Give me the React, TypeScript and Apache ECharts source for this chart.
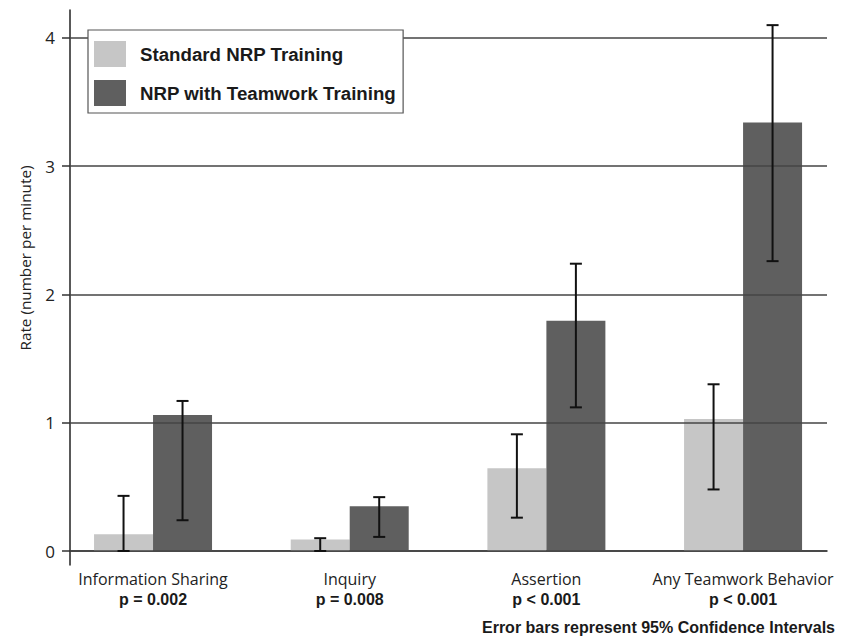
import React, { useEffect, useRef } from "react";
import * as echarts from "echarts";

const categories = ["Information Sharing", "Inquiry", "Assertion", "Any Teamwork Behavior"];
const pValues = ["p = 0.002", "p = 0.008", "p < 0.001", "p < 0.001"];
const seriesNames = ["Standard NRP Training", "NRP with Teamwork Training"];
const standardValues = [0.13, 0.09, 0.645, 1.03];
const teamworkValues = [1.06, 0.35, 1.795, 3.34];
const standardLow = [0.0, 0.0, 0.26, 0.48];
const standardHigh = [0.43, 0.1, 0.91, 1.3];
const teamworkLow = [0.24, 0.11, 1.12, 2.26];
const teamworkHigh = [1.17, 0.42, 2.24, 4.1];
const yTicks = [0, 1, 2, 3, 4];

const Y_MIN = -0.109;
const Y_MAX = 4.218;
const BAR_W = 59;
const LIGHT = "#c6c6c6";
const DARK = "#5f5f5f";
const REG_FONT = "Open Sans";
const BOLD_FONT = "Liberation Sans";

function errorSeries(low: number[], high: number[], offset: number, name: string) {
  return {
    type: "custom",
    name,
    xAxisIndex: 1,
    yAxisIndex: 1,
    z: 5,
    silent: true,
    data: low.map((l, i) => [i, l, high[i]]),
    renderItem: (params: any, api: any) => {
      const idx = api.value(0);
      const pLo = api.coord([idx, api.value(1)]);
      const pHi = api.coord([idx, api.value(2)]);
      const x = pLo[0] + offset;
      const style = { stroke: "#111", lineWidth: 2 };
      return {
        type: "group",
        children: [
          { type: "line", shape: { x1: x, y1: pLo[1], x2: x, y2: pHi[1] }, style },
          { type: "line", shape: { x1: x - 6, y1: pLo[1], x2: x + 6, y2: pLo[1] }, style },
          { type: "line", shape: { x1: x - 6, y1: pHi[1], x2: x + 6, y2: pHi[1] }, style },
        ],
      };
    },
  };
}

export default function App() {
  const ref = useRef<HTMLDivElement>(null);
  useEffect(() => {
    if (!ref.current) return;
    const chart = echarts.init(ref.current, null, { renderer: "svg" });
    const option: any = {
      animation: false,
      backgroundColor: "#ffffff",
      grid: [
        { left: 70, right: 18, top: 10, bottom: 71 },
        { left: 54.7, right: 3.6, top: 10, bottom: 71 },
      ],
      legend: {
        data: seriesNames,
        orient: "vertical",
        left: 88,
        top: 30,
        itemWidth: 32,
        itemHeight: 26,
        itemGap: 13,
        padding: [11, 7, 7, 6],
        borderColor: "#555",
        borderWidth: 1.2,
        backgroundColor: "#ffffff",
        selectedMode: false,
        icon: "rect",
        z: 10,
        textStyle: {
          fontFamily: BOLD_FONT,
          fontWeight: "bold",
          fontSize: 18.7,
          color: "#1a1a1a",
          padding: [0, 0, 0, 9],
        },
      },
      xAxis: [
        {
          type: "category",
          gridIndex: 0,
          data: categories,
          axisLine: { show: true, lineStyle: { color: "#222", width: 1.5 } },
          axisTick: { show: false },
          axisLabel: { show: false },
          splitLine: { show: false },
        },
        {
          type: "category",
          gridIndex: 1,
          data: categories,
          axisLine: { show: false },
          axisTick: { show: false },
          splitLine: { show: false },
          axisLabel: {
            show: true,
            interval: 0,
            margin: 3,
            formatter: (v: string, i: number) => `{n|${v}}\n{p|${pValues[i]}}`,
            rich: {
              n: { fontFamily: REG_FONT, fontSize: 16, color: "#222", lineHeight: 21 },
              p: { fontFamily: BOLD_FONT, fontWeight: "bold", fontSize: 16, color: "#1a1a1a", lineHeight: 21 },
            },
          },
        },
      ],
      yAxis: [
        {
          type: "value",
          gridIndex: 0,
          min: Y_MIN,
          max: Y_MAX,
          axisLine: { show: true, lineStyle: { color: "#222", width: 1.5 } },
          axisTick: { show: true, length: 8, customValues: yTicks, lineStyle: { color: "#333", width: 1.5 } },
          axisLabel: {
            show: true,
            customValues: yTicks,
            margin: 15,
            fontFamily: REG_FONT,
            fontSize: 17,
            color: "#222",
          },
          splitLine: { show: false },
        },
        {
          type: "value",
          gridIndex: 1,
          min: Y_MIN,
          max: Y_MAX,
          show: false,
          splitLine: { show: false },
        },
      ],
      graphic: [
        {
          type: "text",
          x: 25,
          y: 258,
          rotation: Math.PI / 2,
          style: {
            text: "Rate (number per minute)",
            fontFamily: REG_FONT,
            fontSize: 15.3,
            fill: "#222",
            textAlign: "center",
            textVerticalAlign: "middle",
          },
        },
        {
          type: "text",
          right: 10,
          top: 619,
          style: {
            text: "Error bars represent 95% Confidence Intervals",
            fontFamily: BOLD_FONT,
            fontWeight: "bold",
            fontSize: 16,
            fill: "#1a1a1a",
          },
        },
      ],
      series: [
        {
          type: "line",
          name: "grid",
          xAxisIndex: 0,
          yAxisIndex: 0,
          data: [],
          z: 1,
          silent: true,
          markLine: {
            silent: true,
            symbol: "none",
            label: { show: false },
            lineStyle: { color: "#444", width: 1.5, type: "solid" },
            data: yTicks.map((t) => ({ yAxis: t })),
          },
        },
        {
          type: "bar",
          name: seriesNames[0],
          xAxisIndex: 1,
          yAxisIndex: 1,
          data: standardValues,
          barWidth: BAR_W,
          barGap: "0%",
          z: 3,
          itemStyle: { color: LIGHT },
        },
        {
          type: "bar",
          name: seriesNames[1],
          xAxisIndex: 1,
          yAxisIndex: 1,
          data: teamworkValues,
          barWidth: BAR_W,
          barGap: "0%",
          z: 3,
          itemStyle: { color: DARK },
        },
        errorSeries(standardLow, standardHigh, -BAR_W / 2, "ci-standard"),
        errorSeries(teamworkLow, teamworkHigh, BAR_W / 2, "ci-teamwork"),
      ],
    };
    chart.setOption(option);
    return () => chart.dispose();
  }, []);
  return (
    <div
      ref={ref}
      style={{ position: "fixed", left: 0, top: 0, width: 845, height: 636, background: "#fff" }}
    />
  );
}
